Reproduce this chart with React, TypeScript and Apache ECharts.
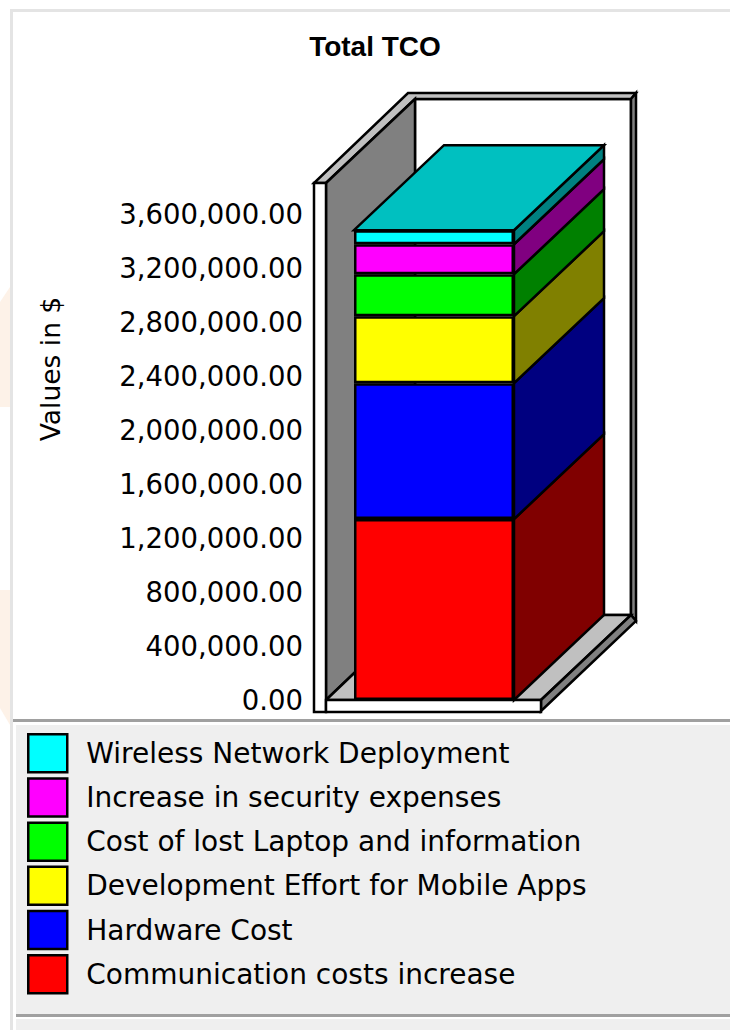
import React, { useEffect, useRef } from "react";
import * as echarts from "echarts";

const categories = ["Total TCO"];
const seriesNames = [
  "Communication costs increase",
  "Hardware Cost",
  "Development Effort for Mobile Apps",
  "Cost of lost Laptop and information",
  "Increase in security expenses",
  "Wireless Network Deployment",
];
const seriesValues = [1340000, 1007000, 496000, 311000, 222000, 104000];
const frontColors = ["#ff0000", "#0000ff", "#ffff00", "#00ff00", "#ff00ff", "#00ffff"];
const sideColors = ["#800000", "#000080", "#808000", "#008000", "#800080", "#008080"];
const topColor = "#00c0c0";
const axisMax = 3600000;
const axisStep = 400000;

const FONT = "'DejaVu Sans', sans-serif";
const TITLE_FONT = "'Liberation Sans', Arial, sans-serif";
const DX = 90;
const DY = 85;
const BAR_W = 160;
const LW = 2.5;

function poly(points: number[][], fill: string, z: number, stroke = "#000", lineWidth = LW) {
  return { type: "polygon", silent: true, z, shape: { points }, style: { fill, stroke, lineWidth } };
}
function box(x: number, y: number, width: number, height: number, fill: string, z: number) {
  return { type: "rect", silent: true, z, shape: { x, y, width, height }, style: { fill } };
}
function shade(points: number[][]) {
  return { type: "polygon", silent: true, z: 0, shape: { points }, style: { fill: "#fdf2e8" } };
}

export default function App() {
  const ref = useRef<HTMLDivElement>(null);
  useEffect(() => {
    const chart = echarts.init(ref.current!, null, { renderer: "svg" });
    let acc = 0;
    const segments = seriesValues.map((v, i) => {
      const row = [0, acc, acc + v, i];
      acc += v;
      return row;
    });
    const last = seriesValues.length - 1;
    chart.setOption({
      animation: false,
      backgroundColor: "#ffffff",
      title: {
        text: "Total TCO",
        left: 370,
        top: 27,
        padding: 5,
        textAlign: "center",
        textStyle: { fontFamily: TITLE_FONT, fontSize: 28, fontWeight: "bold", color: "#000" },
      },
      grid: { left: 326, top: 214, width: 216, height: 486, containLabel: false },
      xAxis: {
        type: "category",
        data: categories,
        axisLine: { show: false },
        axisTick: { show: false },
        axisLabel: { show: false },
      },
      yAxis: {
        type: "value",
        min: 0,
        max: axisMax,
        interval: axisStep,
        z: 3,
        name: "Values in $",
        nameLocation: "middle",
        nameGap: 262,
        nameRotate: 90,
        nameTextStyle: { fontFamily: FONT, fontSize: 26.5, color: "#000", padding: [0, 0, 0, 176] },
        axisLine: { show: false },
        splitLine: { show: false },
        axisTick: { inside: true, length: 13, lineStyle: { color: "#a0a0a0", width: 2.5 } },
        axisLabel: {
          margin: 23,
          fontFamily: FONT,
          fontSize: 27.5,
          color: "#000",
          formatter: (v: number) =>
            v.toLocaleString("en-US", { minimumFractionDigits: 2, maximumFractionDigits: 2 }),
        },
      },
      legend: {
        orient: "vertical",
        left: 27,
        top: 733,
        padding: 0,
        icon: "rect",
        itemWidth: 39,
        itemHeight: 38,
        itemGap: 3.7,
        selectedMode: false,
        data: [...seriesNames].reverse(),
        textStyle: { fontFamily: FONT, fontSize: 28, color: "#000", padding: [0, 0, 0, 14] },
        itemStyle: { borderColor: "#000", borderWidth: LW },
      },
      graphic: [
        // page panels
        shade([[0, 302], [10, 287], [10, 407], [0, 407]]),
        shade([[0, 590], [10, 590], [10, 725], [0, 708]]),
        box(10, 9, 720, 3, "#e4e4e4", 0),
        box(10, 9, 3, 1021, "#e4e4e4", 0),
        box(13, 719, 717, 3, "#a0a0a0", 0),
        box(16, 725, 714, 289, "#efefef", 0),
        box(16, 1014, 714, 3, "#a0a0a0", 0),
        box(16, 1019, 714, 11, "#efefef", 0),
        // chart box
        poly([[415, 99], [631, 99], [631, 615], [415, 615]], "#ffffff", 1),
        poly([[314, 183], [326, 183], [415, 99], [631, 99], [636, 93], [408, 93]], "#c0c0c0", 1),
        poly([[631, 99], [636, 93], [636, 621], [631, 615]], "#808080", 1),
        poly([[326, 183], [415, 99], [415, 615], [326, 700]], "#808080", 1),
        poly([[326, 700], [415, 615], [631, 615], [541, 700]], "#c0c0c0", 1),
        poly([[541, 700], [631, 615], [636, 621], [541, 711]], "#808080", 1),
        poly([[314, 183], [326, 183], [326, 712], [314, 712]], "#ffffff", 1),
        poly([[326, 700], [541, 700], [541, 712], [326, 712]], "#ffffff", 1),
      ],
      series: [
        {
          type: "custom",
          silent: true,
          z: 4,
          data: segments,
          encode: { x: 0, y: [1, 2] },
          renderItem: (params: any, api: any) => {
            const bottom = api.coord([api.value(0), api.value(1)]);
            const top = api.coord([api.value(0), api.value(2)]);
            const i = api.value(3);
            const xr = bottom[0] + BAR_W / 2;
            const xl = bottom[0] - BAR_W / 2;
            const children: any[] = [
              {
                type: "polygon",
                shape: {
                  points: [
                    [xr, top[1]],
                    [xr + DX, top[1] - DY],
                    [xr + DX, bottom[1] - DY],
                    [xr, bottom[1]],
                  ],
                },
                style: { fill: sideColors[i], stroke: "#000", lineWidth: LW },
              },
            ];
            if (i === last) {
              children.push({
                type: "polygon",
                shape: {
                  points: [
                    [xl, top[1]],
                    [xl + DX, top[1] - DY],
                    [xr + DX, top[1] - DY],
                    [xr, top[1]],
                  ],
                },
                style: { fill: topColor, stroke: "#000", lineWidth: LW },
              });
            }
            return { type: "group", children };
          },
        },
        ...seriesNames.map((name, i) => ({
          type: "bar",
          name,
          stack: "total",
          barWidth: BAR_W,
          z: 5,
          silent: true,
          data: [seriesValues[i]],
          itemStyle: { color: frontColors[i], borderColor: "#000", borderWidth: LW },
        })),
      ],
    });
    return () => chart.dispose();
  }, []);
  return (
    <div
      ref={ref}
      style={{ position: "fixed", left: 0, top: 0, width: 730, height: 1030, background: "#fff" }}
    />
  );
}
